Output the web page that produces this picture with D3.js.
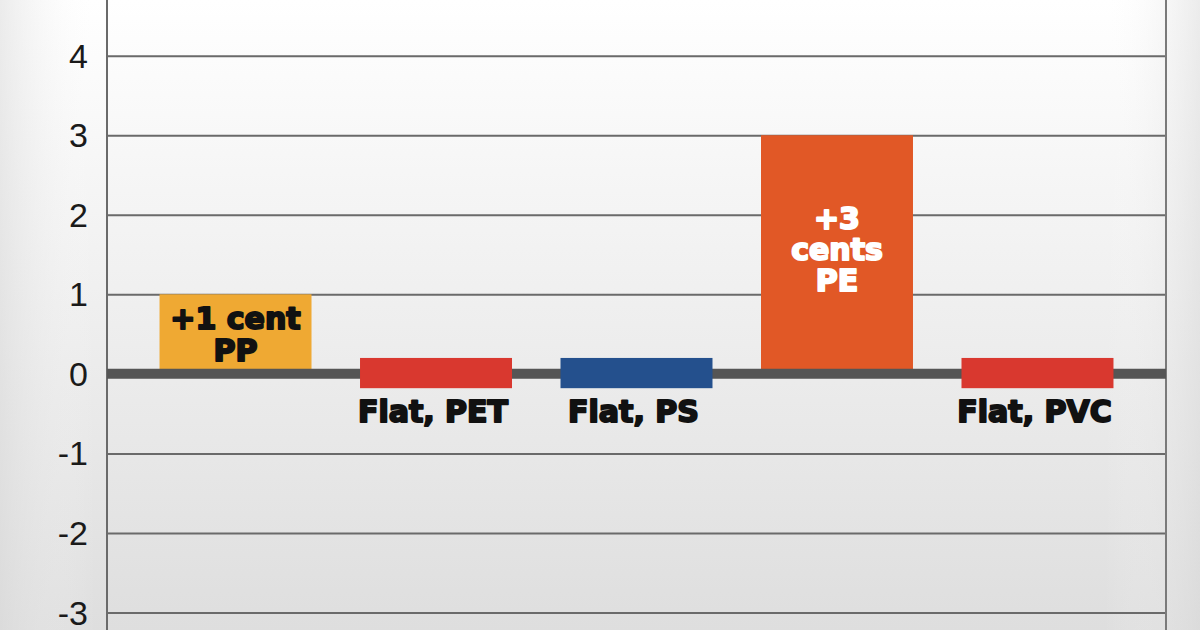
<!DOCTYPE html>
<html>
<head>
<meta charset="utf-8">
<script src="https://cdn.jsdelivr.net/npm/d3@7"></script>
<style>
  html, body { margin: 0; padding: 0; }
  body { width: 1200px; height: 630px; overflow: hidden; }
</style>
</head>
<body>
<div id="chart"></div>
<script>
// resin price change, cents per pound
var categories = ["PP", "PET", "PS", "PE", "PVC"];
var changes = [1, 0, 0, 3, 0];
var labels = [["+1 cent", "PP"], ["Flat, PET"], ["Flat, PS"], ["+3", "cents", "PE"], ["Flat, PVC"]];
var colors = ["#efa933", "#d9382f", "#24508d", "#e15826", "#d9382f"];
var yTicks = [-3, -2, -1, 0, 1, 2, 3, 4];

var w = 1200;
var h = 630;
var left = 107, right = 1166;
var flatBand = 0.2;   // half-height of the "flat" marker, in units

var svg = d3.select("#chart")
            .append("svg")
            .attr("width", w)
            .attr("height", h);

var defs = svg.append("defs");
var vg = defs.append("linearGradient").attr("id", "bgV")
    .attr("x1", 0).attr("y1", 0).attr("x2", 0).attr("y2", 1);
vg.append("stop").attr("offset", "0%").attr("stop-color", "#ffffff");
vg.append("stop").attr("offset", "100%").attr("stop-color", "#dedede");

var hg = defs.append("linearGradient").attr("id", "bgH")
    .attr("x1", 0).attr("y1", 0).attr("x2", 1).attr("y2", 0);
hg.append("stop").attr("offset", "0%").attr("stop-color", "#d8d8d8").attr("stop-opacity", 0.5);
hg.append("stop").attr("offset", "8%").attr("stop-color", "#ffffff").attr("stop-opacity", 0);
hg.append("stop").attr("offset", "92%").attr("stop-color", "#ffffff").attr("stop-opacity", 0);
hg.append("stop").attr("offset", "100%").attr("stop-color", "#d8d8d8").attr("stop-opacity", 0.5);

svg.append("rect").attr("width", w).attr("height", h).attr("fill", "url(#bgV)");
svg.append("rect").attr("width", w).attr("height", h).attr("fill", "url(#bgH)");

var x = d3.scaleBand()
    .domain(categories)
    .range([left, right])
    .paddingInner(0.242)
    .paddingOuter(0.262);

var y = d3.scaleLinear()
    .domain([-3.22, 4.7])
    .range([h, 0]);

// gridlines
svg.append("g")
    .attr("transform", "translate(" + left + ",0)")
    .call(d3.axisLeft(y).tickValues(yTicks).tickSize(-(right - left)).tickFormat(""))
    .call(function(g) {
        g.select(".domain").remove();
        g.selectAll(".tick line").attr("stroke", "#6a6a6a").attr("stroke-width", 2);
    });

// tick labels (plain hyphen for negatives, as in the original)
svg.append("g")
    .attr("transform", "translate(" + left + ",0)")
    .call(d3.axisLeft(y).tickValues(yTicks).tickSize(0).tickPadding(19)
        .tickFormat(function(d) { return String(d); }))
    .call(function(g) {
        g.select(".domain").remove();
        g.selectAll("text")
            .attr("font-family", "Liberation Sans, Arial, sans-serif")
            .attr("font-size", 34)
            .attr("dy", "0.34em")
            .attr("fill", "#1a1a1a");
    });

// left axis and right border
svg.append("line").attr("x1", left).attr("x2", left).attr("y1", 0).attr("y2", h)
    .attr("stroke", "#6a6a6a").attr("stroke-width", 2);
svg.append("line").attr("x1", right).attr("x2", right).attr("y1", 0).attr("y2", h)
    .attr("stroke", "#7a7a7a").attr("stroke-width", 2);

// bars with a value
svg.selectAll("rect.bar")
    .data(categories.filter(function(d, i) { return changes[i] !== 0; }))
    .enter()
    .append("rect")
    .attr("class", "bar")
    .attr("x", function(d) { return x(d); })
    .attr("width", x.bandwidth())
    .attr("y", function(d) { return y(changes[categories.indexOf(d)]); })
    .attr("height", function(d) { return y(0) - y(changes[categories.indexOf(d)]); })
    .attr("fill", function(d) { return colors[categories.indexOf(d)]; });

// zero line
svg.append("line")
    .attr("x1", left).attr("x2", right)
    .attr("y1", y(0)).attr("y2", y(0))
    .attr("stroke", "#555555").attr("stroke-width", 10);

// flat markers
svg.selectAll("rect.flat")
    .data(categories.filter(function(d, i) { return changes[i] === 0; }))
    .enter()
    .append("rect")
    .attr("class", "flat")
    .attr("x", function(d) { return x(d); })
    .attr("width", x.bandwidth())
    .attr("y", y(flatBand))
    .attr("height", y(-flatBand * 0.9) - y(flatBand))
    .attr("fill", function(d) { return colors[categories.indexOf(d)]; });

// labels
categories.forEach(function(c, i) {
    var lines = labels[i];
    var cx = x(c) + x.bandwidth() / 2;
    var fill, firstBase, step;
    if (changes[i] === 0) {
        fill = "#111111";
        firstBase = y(0) + 48;
        step = 32;
    } else if (changes[i] < 2) {
        fill = "#111111";
        firstBase = y(changes[i]) + 35;
        step = 32;
    } else {
        fill = "#ffffff";
        firstBase = y(changes[i]) + 94;
        step = 31;
    }
    var t = svg.append("text")
        .attr("text-anchor", "middle")
        .attr("font-family", "DejaVu Sans, sans-serif")
        .attr("font-weight", "bold")
        .attr("font-size", 30)
        .attr("fill", fill)
        .attr("stroke", fill)
        .attr("stroke-width", 2)
        .attr("stroke-linejoin", "round");
    lines.forEach(function(s, k) {
        t.append("tspan")
            .attr("x", cx - (changes[i] === 0 ? 3 : 0))
            .attr("y", firstBase + k * step)
            .text(s);
    });
});
</script>
</body>
</html>
